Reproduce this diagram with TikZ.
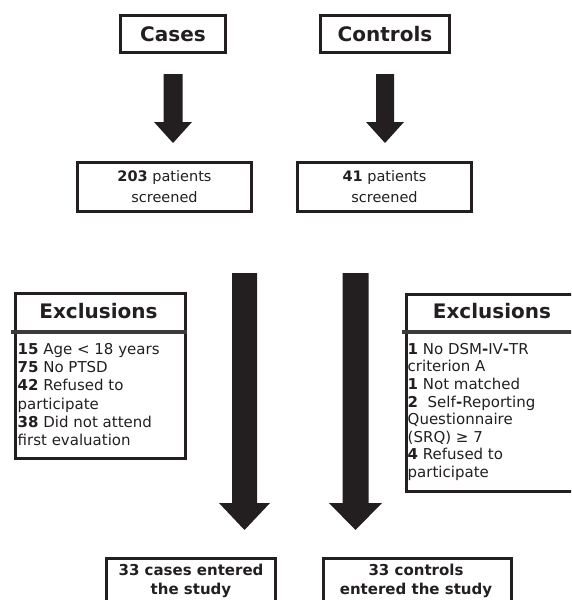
\documentclass[tikz,border=0pt]{standalone}
\usepackage{fontspec}
\setmainfont{DejaVu Sans}
\definecolor{ink}{HTML}{231F20}
\definecolor{divc}{HTML}{3C3A3B}
\begin{document}
\begin{tikzpicture}[x=1pt,y=-1pt,
  every node/.style={text=ink},
  box/.style={draw=ink, line width=3pt, inner sep=0pt},
  head/.style={font=\fontsize{20}{24}\selectfont\bfseries},
  body/.style={font=\fontsize{14.5}{21}\selectfont, align=center},
  list/.style={font=\fontsize{15}{18.3}\selectfont, align=left, inner sep=0pt, anchor=north west},
  final/.style={font=\fontsize{15}{18.5}\selectfont\bfseries, align=center, inner sep=0pt, anchor=north},
  blk/.style={fill=ink, draw=none},
  divider/.style={draw=divc, line width=4pt}]
\useasboundingbox (0,0) rectangle (571,600);
\clip (0,0) rectangle (571,600);

% top boxes
\node[box, head, minimum width=105, minimum height=37] (cases) at (173,34) {Cases};
\node[box, head, minimum width=129, minimum height=37] (controls) at (385,34) {Controls};

% small arrows
\fill[blk] (163.5,74) -- (182.5,74) -- (182.5,122) -- (192,122) -- (173,143) -- (154,122) -- (163.5,122) -- cycle;
\fill[blk] (376,74) -- (394,74) -- (394,122) -- (404,122) -- (385,143) -- (366,122) -- (376,122) -- cycle;

% screened boxes
\node[box, body, minimum width=174, minimum height=49] (scr1) at (164.5,187) {\textbf{203} patients\\screened};
\node[box, body, minimum width=174, minimum height=49] (scr2) at (384.5,187) {\textbf{41} patients\\screened};

% big arrows
\fill[blk] (232,273) -- (257,273) -- (257,503) -- (270,503) -- (244.5,530) -- (219,503) -- (232,503) -- cycle;
\fill[blk] (342.5,273) -- (368.5,273) -- (368.5,503) -- (382,503) -- (355.5,530) -- (329,503) -- (342.5,503) -- cycle;

% left exclusions
\node[box, anchor=north west, minimum width=170, minimum height=165] (exl) at (13.5,291.5) {};
\draw[divider] (11,332) -- (187,332);
\node[head] (exlh) at (98.5,311) {Exclusions};
\node[list] (exlt) at (17.5,343) {\textbf{15} Age < 18 years\\
\textbf{75} No PTSD\\
\textbf{42} Refused to\\
participate\\
\textbf{38} Did not attend\\
first evaluation};

% right exclusions
\node[box, anchor=north west, minimum width=175, minimum height=197] (exr) at (404.5,292.5) {};
\draw[divider] (402,332) -- (582,332);
\node[head] (exrh) at (492,311) {Exclusions};
\node[list, font=\fontsize{15}{17.6}\selectfont] (exrt) at (407.5,343) {\textbf{1} No DSM\textbf{-}IV\textbf{-}TR\\
criterion A\\
\textbf{1} Not matched\\
\textbf{2}\ \ Self\textbf{-}Reporting\\
Questionnaire\\
(SRQ) ≥ 7\\
\textbf{4} Refused to\\
participate};

% final boxes
\node[box, anchor=north, minimum width=169, minimum height=60] (fin1) at (191,556.5) {};
\node[box, anchor=north, minimum width=188, minimum height=60] (fin2) at (417.5,556.5) {};
\node[final] (fin1t) at (191,564) {33 cases entered\\the study};
\node[final] (fin2t) at (416,564) {33 controls\\entered the study};
\end{tikzpicture}
\end{document}
